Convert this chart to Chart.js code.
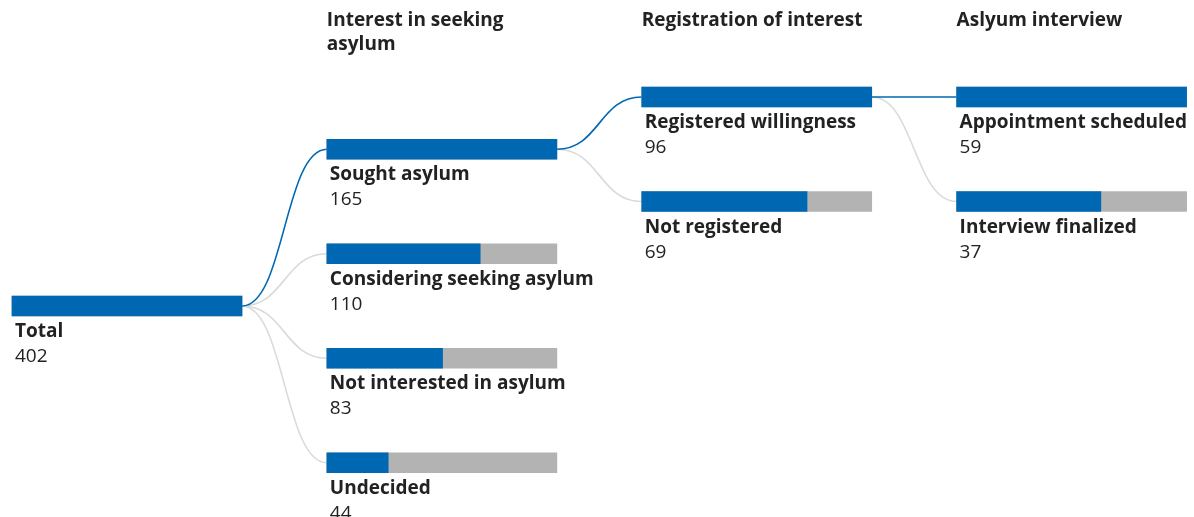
<!DOCTYPE html>
<html>
<head>
<meta charset="utf-8">
<script src="https://cdn.jsdelivr.net/npm/chart.js@4/dist/chart.umd.min.js"></script>
<style>
  html, body { margin: 0; padding: 0; background: #fff; }
  #wrap { width: 1194px; height: 517px; position: relative; }
</style>
</head>
<body>
<div id="wrap"><canvas id="flowChart"></canvas></div>
<script>
// stage headings (first stage has none)
const stageTitles = ['', 'Interest in seeking asylum', 'Registration of interest', 'Aslyum interview'];

const totalLabels = ['Total'];
const totalValues = [402];

const interestLabels = ['Sought asylum', 'Considering seeking asylum', 'Not interested in asylum', 'Undecided'];
const interestValues = [165, 110, 83, 44];

const registrationLabels = ['Registered willingness', 'Not registered'];
const registrationValues = [96, 69];

const interviewLabels = ['Appointment scheduled', 'Interview finalized'];
const interviewValues = [59, 37];

// which node of the previous stage each stage branches from
const parentIndex = [null, 0, 0, 0];

const BLUE = '#0068b3';
const GREY = '#b3b3b3';
const LINK_GREY = '#dadada';
const TEXT = '#222222';
const FONT = '"Open Sans", sans-serif';

const stages = [
  { labels: totalLabels, values: totalValues, rows: [2] },
  { labels: interestLabels, values: interestValues, rows: [0.5, 1.5, 2.5, 3.5] },
  { labels: registrationLabels, values: registrationValues, rows: [0, 1] },
  { labels: interviewLabels, values: interviewValues, rows: [0, 1] }
];

// one bar length = 1 unit on x, stages are spaced 1.369 units apart
const STEP = 1.369;
const colStart = i => i * STEP;

const filled = [];
const track = [];
stages.forEach((s, i) => {
  const max = Math.max(...s.values);
  s.values.forEach((v, j) => {
    filled.push({ x: [colStart(i), colStart(i) + v / max], y: s.rows[j] });
    track.push({ x: [colStart(i), colStart(i) + 1], y: s.rows[j] });
  });
});

function wrapText(ctx, text, maxWidth) {
  const words = text.split(' ');
  const lines = [];
  let line = '';
  words.forEach(w => {
    const test = line ? line + ' ' + w : w;
    if (ctx.measureText(test).width > maxWidth && line) {
      lines.push(line);
      line = w;
    } else {
      line = test;
    }
  });
  if (line) lines.push(line);
  return lines;
}

const flowLinks = {
  id: 'flowLinks',
  beforeDatasetsDraw(chart) {
    const { ctx, scales: { x, y } } = chart;
    const links = [];
    stages.forEach((s, i) => {
      if (i === 0) return;
      const prev = stages[i - 1];
      const p = parentIndex[i];
      s.rows.forEach((r, j) => {
        links.push({
          x0: x.getPixelForValue(colStart(i - 1) + 1),
          y0: y.getPixelForValue(prev.rows[p]),
          x1: x.getPixelForValue(colStart(i)),
          y1: y.getPixelForValue(r),
          on: j === 0
        });
      });
    });
    ctx.save();
    ctx.lineWidth = 1.6;
    // grey links first so the highlighted path sits on top
    [false, true].forEach(on => {
      links.filter(l => l.on === on).forEach(l => {
        const mx = (l.x0 + l.x1) / 2;
        ctx.strokeStyle = on ? BLUE : LINK_GREY;
        ctx.beginPath();
        ctx.moveTo(l.x0, l.y0);
        ctx.bezierCurveTo(mx, l.y0, mx, l.y1, l.x1, l.y1);
        ctx.stroke();
      });
    });
    ctx.restore();
  }
};

const nodeLabels = {
  id: 'nodeLabels',
  afterDatasetsDraw(chart) {
    const { ctx, scales: { x, y } } = chart;
    ctx.save();
    ctx.fillStyle = TEXT;
    ctx.textBaseline = 'alphabetic';
    stages.forEach((s, i) => {
      const left = x.getPixelForValue(colStart(i));
      const barW = x.getPixelForValue(colStart(i) + 1) - left;
      if (stageTitles[i]) {
        ctx.font = 'bold 19px ' + FONT;
        wrapText(ctx, stageTitles[i], barW).forEach((ln, k) => {
          ctx.fillText(ln, left, 26 + k * 24);
        });
      }
      s.rows.forEach((r, j) => {
        const cy = y.getPixelForValue(r);
        ctx.font = 'bold 19px ' + FONT;
        ctx.fillText(s.labels[j], left + 3, cy + 31);
        ctx.font = '19px ' + FONT;
        ctx.fillText(String(s.values[j]), left + 3, cy + 56);
      });
    });
    ctx.restore();
  }
};

new Chart(document.getElementById('flowChart'), {
  type: 'bar',
  data: {
    datasets: [
      { data: filled, backgroundColor: BLUE, grouped: false, order: 0, barThickness: 20 },
      { data: track, backgroundColor: GREY, grouped: false, order: 1, barThickness: 20 }
    ]
  },
  options: {
    indexAxis: 'y',
    responsive: true,
    maintainAspectRatio: false,
    animation: false,
    layout: { padding: 0 },
    plugins: { legend: { display: false }, tooltip: { enabled: false } },
    scales: {
      x: { type: 'linear', display: false, min: -12 / 230, max: (1194 - 12) / 230 },
      y: { type: 'linear', display: false, offset: false, reverse: true, min: -97 / 104.5, max: (517 - 97) / 104.5 }
    }
  },
  plugins: [flowLinks, nodeLabels]
});
</script>
</body>
</html>
